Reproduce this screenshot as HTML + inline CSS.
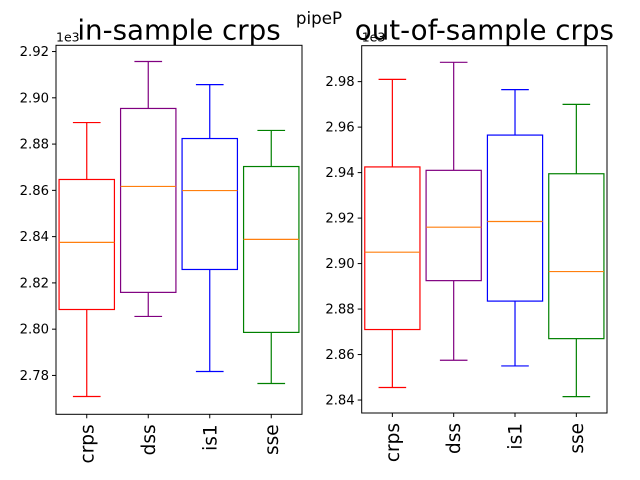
<!DOCTYPE html>
<html><head><meta charset="utf-8"><style>
body{margin:0;background:#fff;}
svg{display:block;font-family:"DejaVu Sans","Liberation Sans",sans-serif;}
</style></head><body>
<svg id="fig" width="640" height="480" viewBox="0 0 640 480">
<text x="319" y="24" font-size="16.7" text-anchor="middle">pipeP</text>
</svg>
<script>
const categories = ["crps","dss","is1","sse"];
const colors = ["red","purple","blue","green"];
const inWhiskHi = [2.8893,2.9157,2.9057,2.8859];
const inQ3 = [2.8647,2.8954,2.8824,2.8703];
const inMed = [2.8375,2.8617,2.8599,2.8388];
const inQ1 = [2.8085,2.8159,2.8258,2.7986];
const inWhiskLo = [2.7709,2.8055,2.7817,2.7765];
const inTicks = [2.78,2.80,2.82,2.84,2.86,2.88,2.90,2.92];
const outWhiskHi = [2.981,2.9885,2.9765,2.970];
const outQ3 = [2.9425,2.941,2.9565,2.9395];
const outMed = [2.905,2.916,2.9185,2.8965];
const outQ1 = [2.871,2.8925,2.8835,2.867];
const outWhiskLo = [2.8455,2.8575,2.855,2.8415];
const outTicks = [2.84,2.86,2.88,2.90,2.92,2.94,2.96,2.98];

const NS="http://www.w3.org/2000/svg";
const svg=document.getElementById('fig');
function mk(tag,attrs,parent){const e=document.createElementNS(NS,tag);for(const k in attrs)e.setAttribute(k,attrs[k]);(parent||svg).appendChild(e);return e;}

function panel(name,title,L,R,T,B,ymin,ymax,ticks,hi,q3,med,q1,lo){
  const g=mk('g',{});
  
  
  const y=v=>B-(v-ymin)/(ymax-ymin)*(B-T);
  const x=i=>L+(i+1-0.5)/4*(R-L);
  const bw=0.9*(R-L)/4, cap=bw/2;
  categories.forEach((c,i)=>{
    const bg=mk('g',{stroke:colors[i],'stroke-width':1.2,fill:'none'},g);
    
    
    const cx=x(i);
    mk('rect',{x:cx-bw/2,y:y(q3[i]),width:bw,height:y(q1[i])-y(q3[i])},bg);
    mk('line',{x1:cx,x2:cx,y1:y(q3[i]),y2:y(hi[i])},bg);
    mk('line',{x1:cx,x2:cx,y1:y(q1[i]),y2:y(lo[i])},bg);
    mk('line',{x1:cx-cap/2,x2:cx+cap/2,y1:y(hi[i]),y2:y(hi[i])},bg);
    mk('line',{x1:cx-cap/2,x2:cx+cap/2,y1:y(lo[i]),y2:y(lo[i])},bg);
    mk('line',{x1:cx-bw/2,x2:cx+bw/2,y1:y(med[i]),y2:y(med[i]),stroke:'#ff7f0e'},bg);
    mk('line',{x1:cx,x2:cx,y1:B,y2:B+4,stroke:'#000'},g);
    const t=mk('text',{x:0,y:0,'font-size':18.5,'text-anchor':'end',transform:`translate(${cx+6.5},${B+10}) rotate(-90)`},g);
    t.textContent=c;
    
    
  });
  ticks.forEach(v=>{
    const yy=y(v);
    mk('line',{x1:L-4,x2:L,y1:yy,y2:yy,stroke:'#000'},g);
    const t=mk('text',{x:L-7,y:yy+4.5,'font-size':13.2,'text-anchor':'end'},g);
    t.textContent=v.toFixed(2);
    
    
  });
  mk('rect',{x:L,y:T,width:R-L,height:B-T,fill:'none',stroke:'#000','stroke-width':1},g);
  const s=mk('text',{x:L,y:T-4,'font-size':12.5},g);
  s.textContent='1e3';
  
  
  const tt=mk('text',{x:(L+R)/2,y:T-6,'font-size':27.7,'text-anchor':'middle'},g);
  tt.textContent=title;
  
  
}
panel('in-sample-panel','in-sample crps',56,302,45.3,414.3,2.7632,2.9227,inTicks,inWhiskHi,inQ3,inMed,inQ1,inWhiskLo);
panel('out-of-sample-panel','out-of-sample crps',361.7,607,45.7,413,2.8343,2.9958,outTicks,outWhiskHi,outQ3,outMed,outQ1,outWhiskLo);
</script>
</body></html>
